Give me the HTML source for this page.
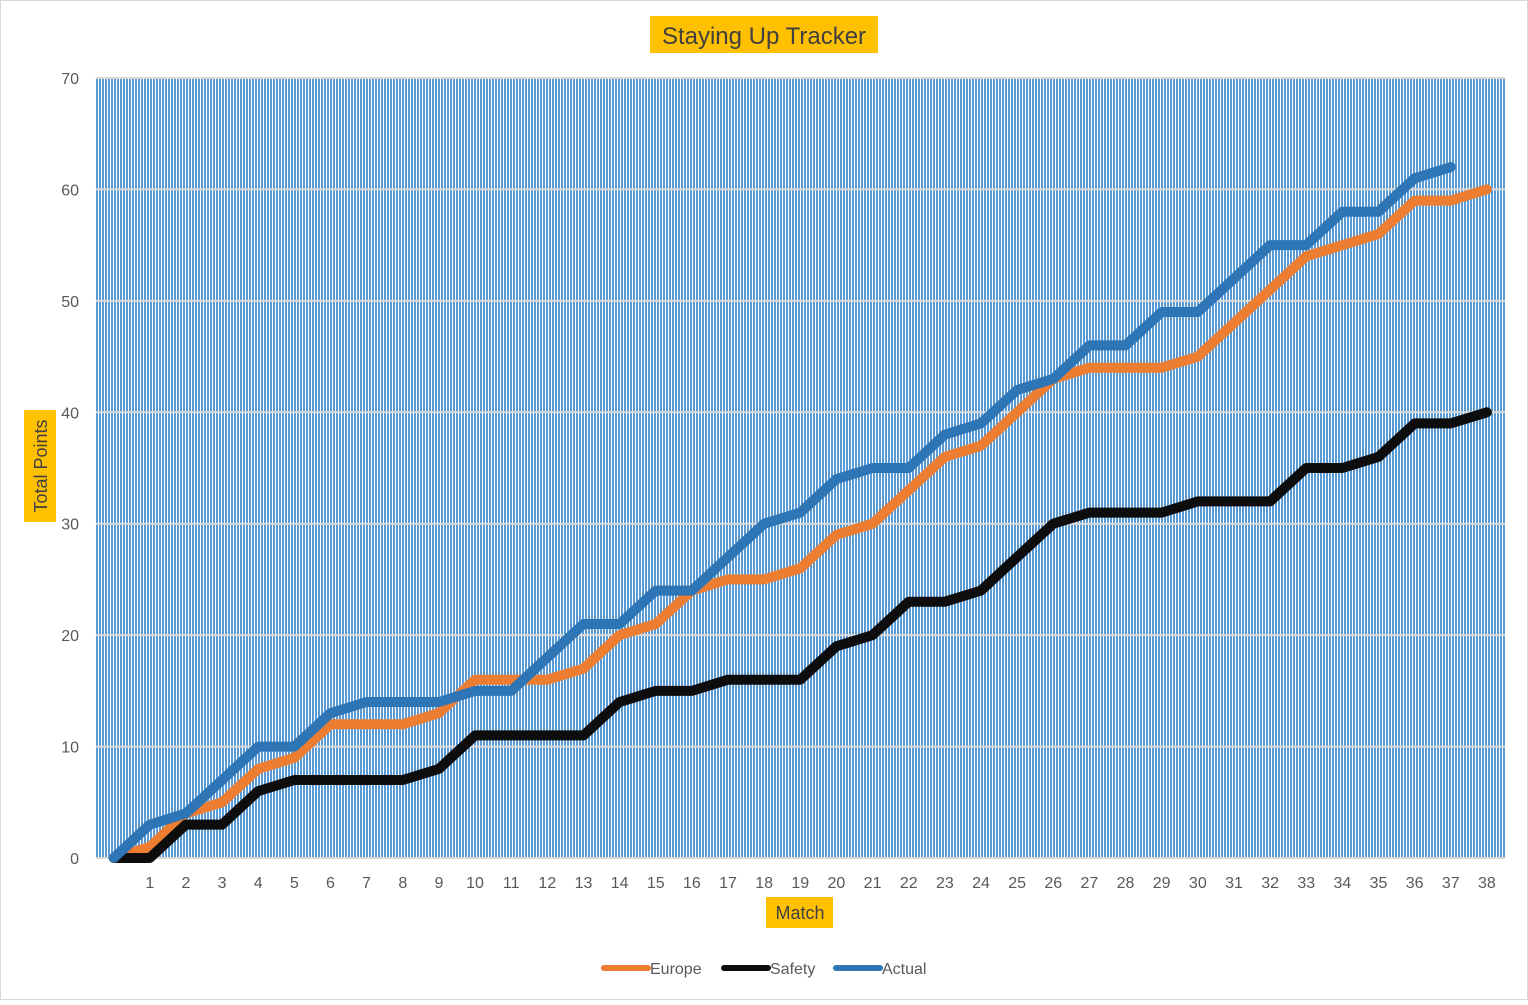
<!DOCTYPE html>
<html><head><meta charset="utf-8"><style>
body{margin:0;width:1528px;height:1000px;background:#fff;font-family:"Liberation Sans",sans-serif;overflow:hidden}
svg text{font-family:"Liberation Sans",sans-serif}
</style></head><body>
<svg width="1528" height="1000">
<defs>
<pattern id="stripes" x="96" y="0" width="3" height="10" patternUnits="userSpaceOnUse">
<rect x="0" y="0" width="2" height="10" fill="#5b9bd5" shape-rendering="crispEdges"/>
</pattern>
</defs>
<rect x="0.5" y="0.5" width="1527" height="999" fill="#fff" stroke="#d9d9d9"/>
<rect x="96" y="78" width="1409" height="780" fill="url(#stripes)" shape-rendering="crispEdges"/>
<g id="grid"></g>
<g id="yticks"></g>
<g id="xticks"></g>
<g id="lines"></g>
<rect x="650" y="16" width="228" height="37" fill="#ffc000"/>
<text x="764" y="44" font-size="24" fill="#404040" text-anchor="middle">Staying Up Tracker</text>
<rect x="24" y="410" width="32" height="112" fill="#ffc000"/>
<text transform="translate(47,466) rotate(-90)" font-size="18" fill="#404040" text-anchor="middle">Total Points</text>
<rect x="766" y="897" width="67" height="31" fill="#ffc000"/>
<text x="800" y="919" font-size="18" fill="#404040" text-anchor="middle">Match</text>
<g>
<line x1="604" y1="968" x2="648" y2="968" stroke="#ed7d31" stroke-width="6" stroke-linecap="round"/>
<text x="650" y="974" font-size="16" fill="#595959">Europe</text>
<line x1="724" y1="968" x2="768" y2="968" stroke="#0d0d0d" stroke-width="6" stroke-linecap="round"/>
<text x="770" y="974" font-size="16" fill="#595959">Safety</text>
<line x1="836" y1="968" x2="880" y2="968" stroke="#2e75b6" stroke-width="6" stroke-linecap="round"/>
<text x="882" y="974" font-size="16" fill="#595959">Actual</text>
</g>
</svg>
<script>
const matches=[0,1,2,3,4,5,6,7,8,9,10,11,12,13,14,15,16,17,18,19,20,21,22,23,24,25,26,27,28,29,30,31,32,33,34,35,36,37,38];
const yTicks=[0,10,20,30,40,50,60,70];
const europe=[0,1,4,5,8,9,12,12,12,13,16,16,16,17,20,21,24,25,25,26,29,30,33,36,37,40,43,44,44,44,45,48,51,54,55,56,59,59,60];
const safety=[0,0,3,3,6,7,7,7,7,8,11,11,11,11,14,15,15,16,16,16,19,20,23,23,24,27,30,31,31,31,32,32,32,35,35,36,39,39,40];
const actual=[0,3,4,7,10,10,13,14,14,14,15,15,18,21,21,24,24,27,30,31,34,35,35,38,39,42,43,46,46,49,49,52,55,55,58,58,61,62];
const NS="http://www.w3.org/2000/svg";
const x0=95.6,x1=1505,y0=858,y1=78,yMax=70;
const step=(x1-x0)/matches.length;
function xs(i){return x0+step*(i+0.5);}
function ys(v){return y0-(v/yMax)*(y0-y1);}
function mk(tag,attrs,parent){const e=document.createElementNS(NS,tag);for(const k in attrs)e.setAttribute(k,attrs[k]);document.getElementById(parent).appendChild(e);return e;}
yTicks.forEach(t=>{
 const l=mk('line',{x1:x0,x2:x1,y1:ys(t),y2:ys(t),stroke:'#d9d9d9','stroke-width':2},'grid');
 
 
 const tx=mk('text',{x:79,y:ys(t)+6,'font-size':16,fill:'#595959','text-anchor':'end'},'yticks');
 tx.textContent=t;
 
 
});
matches.forEach((m,i)=>{
 if(m===0)return;
 const tx=mk('text',{x:xs(i),y:888,'font-size':16,fill:'#595959','text-anchor':'middle'},'xticks');
 tx.textContent=m;
 
 
});
function series(vals,color,name){
 const d=vals.map((v,i)=>(i?'L':'M')+xs(i).toFixed(1)+' '+ys(v).toFixed(1)).join(' ');
 const p=mk('path',{d:d,fill:'none',stroke:color,'stroke-width':10,'stroke-linejoin':'round','stroke-linecap':'round'},'lines');
 
 
}
series(europe,'#ed7d31','europe');
series(safety,'#0d0d0d','safety');
series(actual,'#2e75b6','actual');
</script>
</body></html>
